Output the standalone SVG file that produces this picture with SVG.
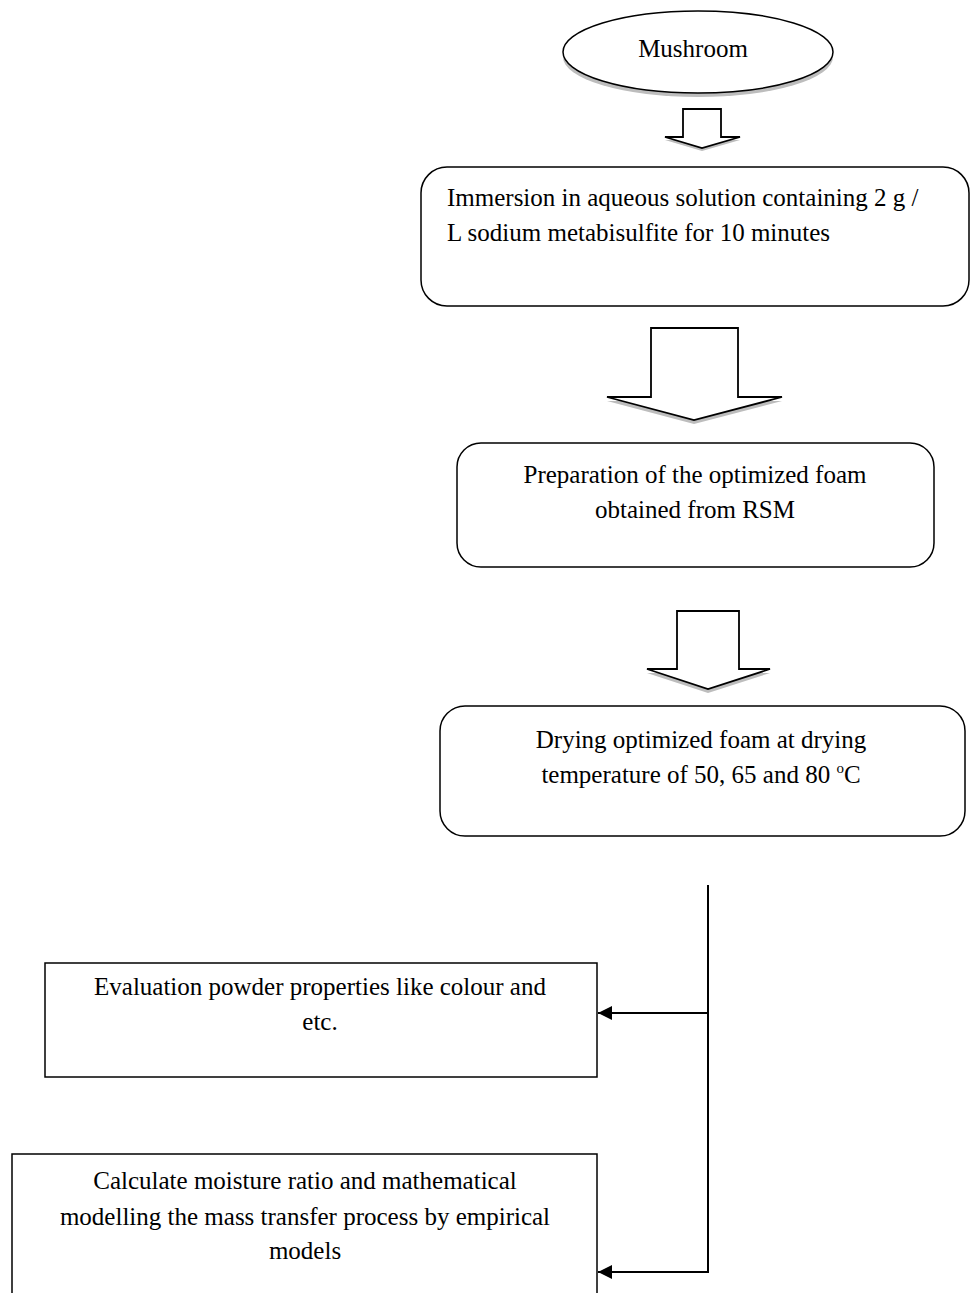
<svg xmlns="http://www.w3.org/2000/svg" width="970" height="1293" viewBox="0 0 970 1293">
<defs>
<style>
.t{font-family:"Liberation Serif","Times New Roman","DejaVu Serif",serif;font-size:25px;fill:#000}
.c{text-anchor:middle}
.box{fill:#fff;stroke:#000;stroke-width:1.5}
.sh{fill:#bdbdbd;stroke:none}
.blk{fill:#fff;stroke:#000;stroke-width:1.8}
.ln{stroke:#000;stroke-width:2;fill:none}
</style>
<marker id="ah" markerWidth="14" markerHeight="14" refX="14" refY="7" orient="auto" markerUnits="userSpaceOnUse">
<path d="M0,0 L14,7 L0,14 z" fill="#000"/>
</marker>
</defs>
<rect width="970" height="1293" fill="#fff"/>

<g id="mushroom">
<ellipse cx="698" cy="57" rx="135" ry="40" class="sh"/>
<ellipse cx="698" cy="52" rx="135" ry="41" class="box"/>
<text x="693" y="57" class="t c">Mushroom</text>
</g>

<g id="arrow1">
<polygon points="665,140 702,151 740,140" class="sh"/>
<polygon points="683,109 721,109 721,137 740,137 702,148 665,137 683,137" class="blk"/>
</g>

<g id="immersion">
<rect x="421" y="167" width="548" height="139" rx="26" class="box"/>
<text x="447" y="206" class="t">Immersion in aqueous solution containing 2 g /</text>
<text x="447" y="241" class="t">L sodium metabisulfite for 10 minutes</text>
</g>

<g id="arrow2">
<polygon points="607,401 694,424 782,401" class="sh"/>
<polygon points="651,328 738,328 738,397 782,397 694,420 607,397 651,397" class="blk"/>
</g>

<g id="preparation">
<rect x="457" y="443" width="477" height="124" rx="24" class="box"/>
<text x="695" y="483" class="t c">Preparation of the optimized foam</text>
<text x="695" y="518" class="t c">obtained from RSM</text>
</g>

<g id="arrow3">
<polygon points="647,673 708,693 770,673" class="sh"/>
<polygon points="677,611 739,611 739,669 770,669 708,689 647,669 677,669" class="blk"/>
</g>

<g id="drying">
<rect x="440" y="706" width="525" height="130" rx="25" class="box"/>
<text x="701" y="748" class="t c">Drying optimized foam at drying</text>
<text x="701" y="783" class="t c">temperature of 50, 65 and 80 <tspan font-size="15" dy="-10">o</tspan><tspan dy="10">C</tspan></text>
</g>

<g id="evaluation">
<rect x="45" y="963" width="552" height="114" class="box"/>
<text x="320" y="995" class="t c">Evaluation powder properties like colour and</text>
<text x="320" y="1030" class="t c">etc.</text>
</g>

<g id="calculate">
<rect x="12" y="1154" width="585" height="145" class="box"/>
<text x="305" y="1189" class="t c">Calculate moisture ratio and mathematical</text>
<text x="305" y="1225" class="t c">modelling the mass transfer process by empirical</text>
<text x="305" y="1259" class="t c">models</text>
</g>

<g id="connectors">
<line x1="708" y1="885" x2="708" y2="1273" class="ln"/>
<line x1="708" y1="1013" x2="598" y2="1013" class="ln" marker-end="url(#ah)"/>
<line x1="708" y1="1272" x2="598" y2="1272" class="ln" marker-end="url(#ah)"/>
</g>
</svg>
